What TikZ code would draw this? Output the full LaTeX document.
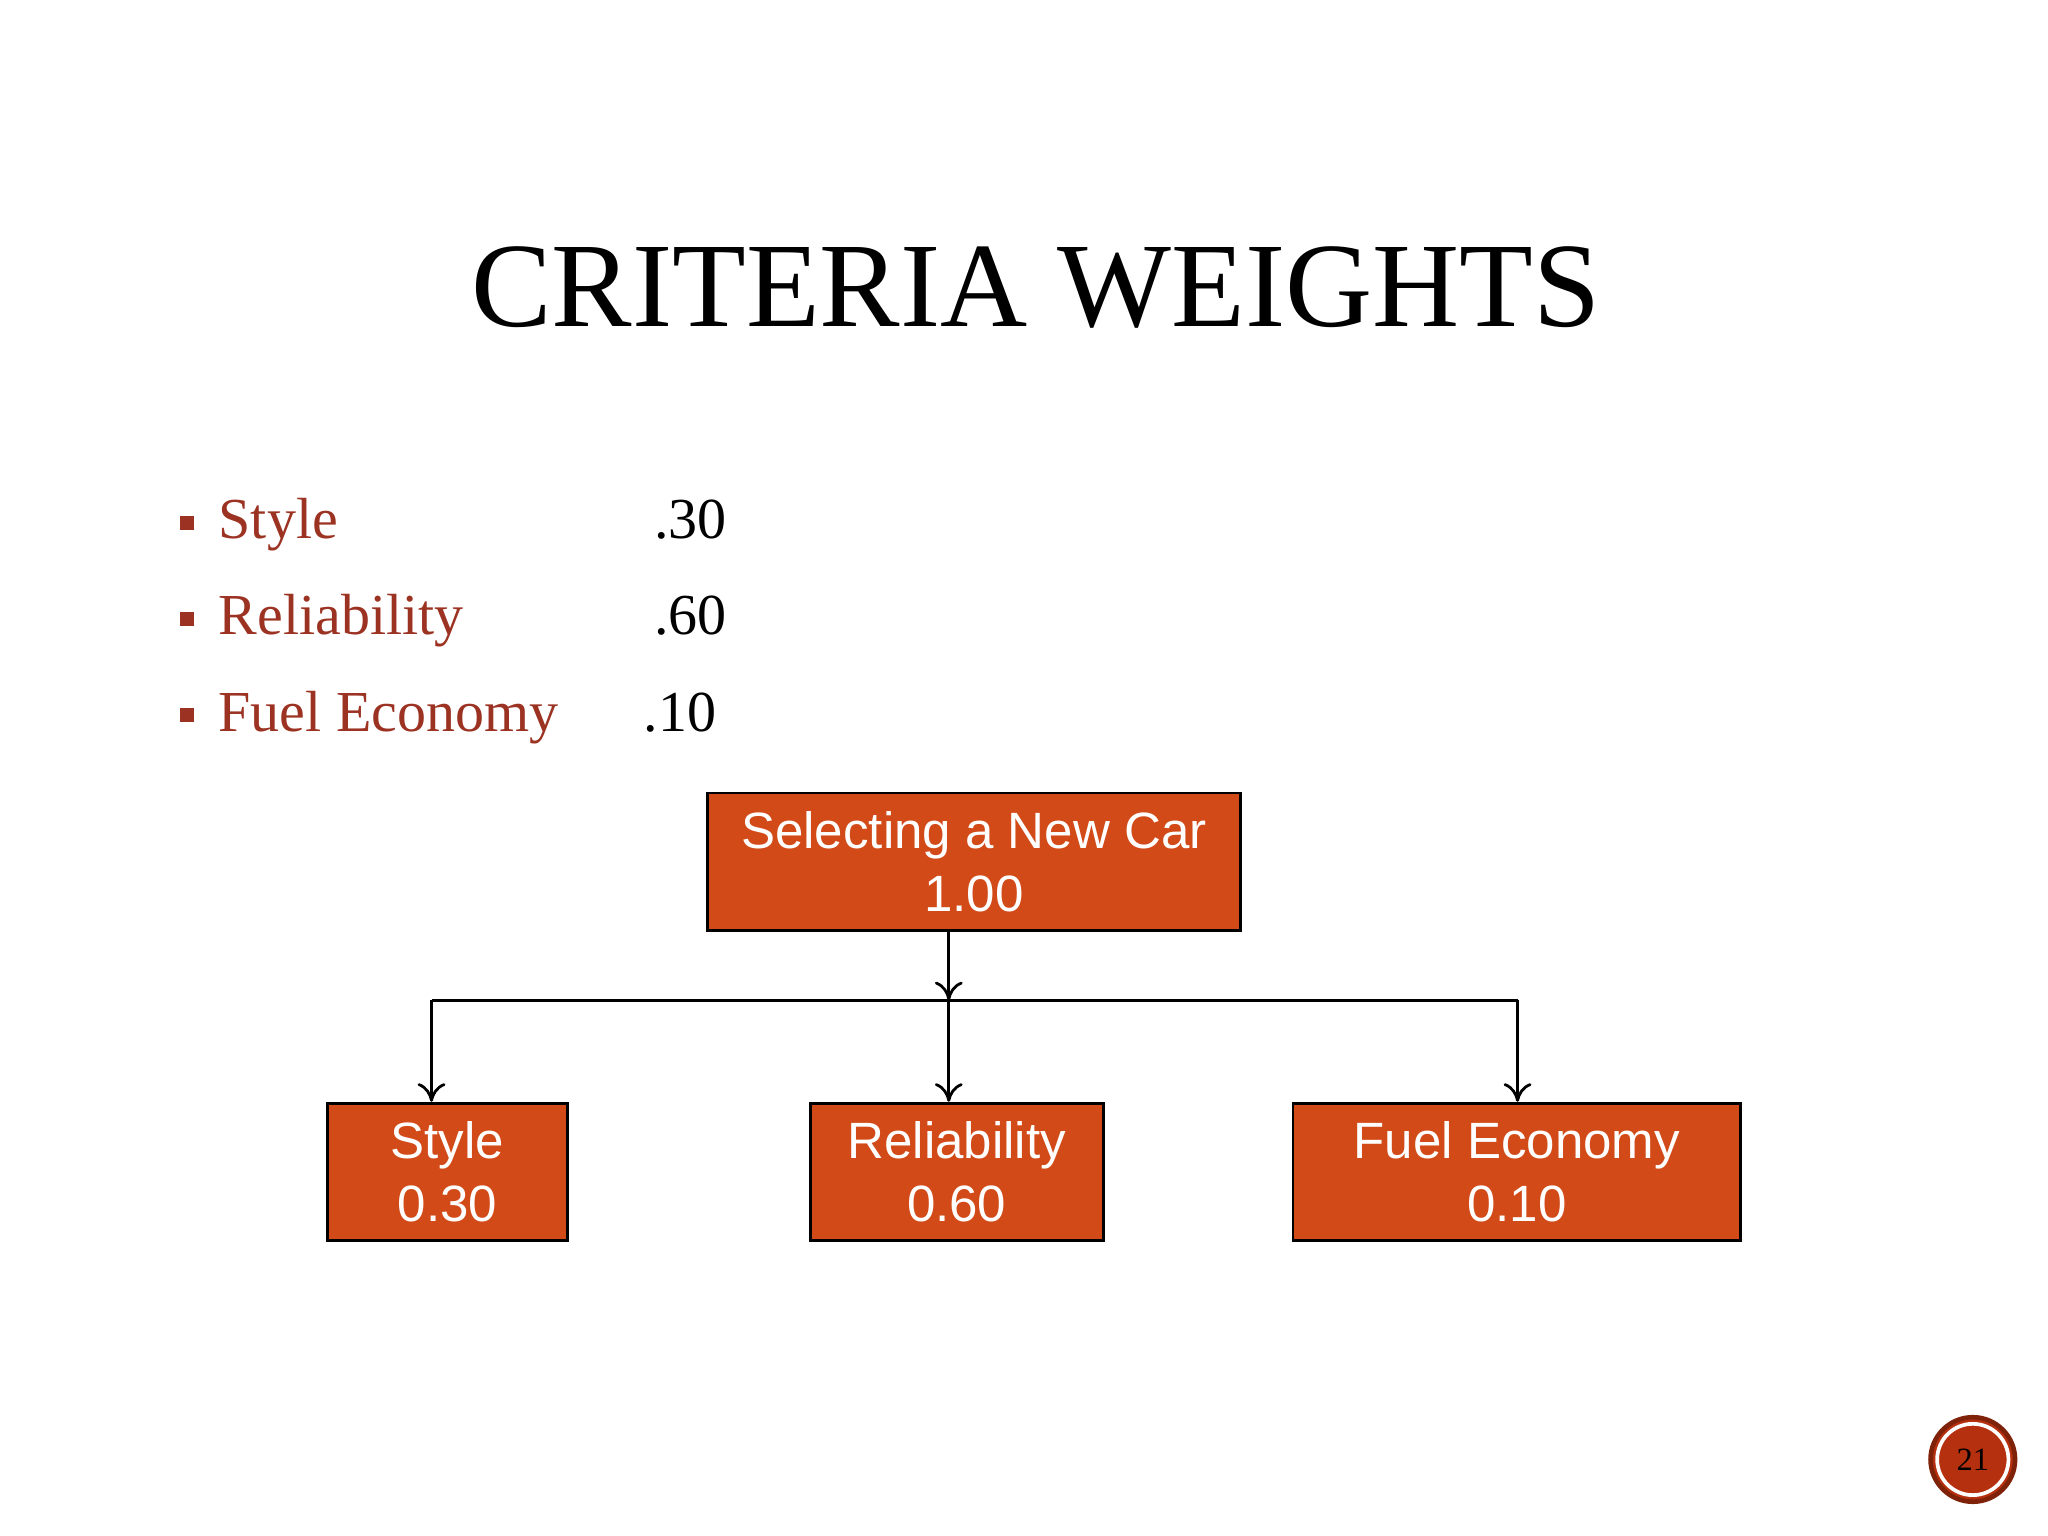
\documentclass[tikz,border=0pt]{standalone}
\usepackage{fontspec}
\setmainfont{Liberation Serif}
\setsansfont{Liberation Sans}
\usetikzlibrary{arrows.meta}
\definecolor{bul}{HTML}{9B3222}
\definecolor{boxc}{HTML}{D24A18}
\definecolor{circ}{HTML}{B5300F}
\begin{document}
\begin{tikzpicture}[x=0.01cm,y=-0.01cm,
  bx/.style={draw=black,line width=0.6pt,fill=boxc,text=white,font=\sffamily\fontsize{11}{13.5}\selectfont,align=center,inner sep=0pt},
  conn/.style={draw=black,line width=0.6pt},
  arr/.style={conn,-{To[length=4pt,width=6pt]}},
  btxt/.style={anchor=base west,text=bul,font=\fontsize{12.5}{14}\selectfont,inner sep=0pt},
  vtxt/.style={anchor=base west,font=\fontsize{12.5}{14}\selectfont,inner sep=0pt},
  sq/.style={fill=bul,minimum size=3pt,inner sep=0pt}]
\useasboundingbox (0,0) rectangle (1552,1164);
\node[font=\fontsize{26}{26}\selectfont] (title) at (785,218) {CRITERIA WEIGHTS};
\node[sq] (b1) at (142,396) {}; \node[btxt] (t1) at (165,408) {Style}; \node[vtxt] (v1) at (495,408) {.30};
\node[sq] (b2) at (142,469) {}; \node[btxt] (t2) at (165,481) {Reliability}; \node[vtxt] (v2) at (495,481) {.60};
\node[sq] (b3) at (142,542) {}; \node[btxt] (t3) at (165,554) {Fuel Economy}; \node[vtxt] (v3) at (487,554) {.10};
\node[bx,minimum width=404\pgflinewidth/\pgflinewidth*0.01cm,minimum height=1.04cm] (top) at (738,653) {Selecting a New Car\\1.00};
\node[bx,minimum width=1.82cm,minimum height=1.04cm] (s) at (339,888) {Style\\0.30};
\node[bx,minimum width=2.22cm,minimum height=1.04cm] (r) at (725,888) {Reliability\\0.60};
\node[bx,minimum width=3.39cm,minimum height=1.04cm] (f) at (1149.5,888) {Fuel Economy\\0.10};
\coordinate (j) at (719,758);
\coordinate (jl) at (327,758);
\coordinate (jr) at (1150,758);
\draw[arr] (top.south -| j) -- (j);
\draw[conn] (jl) -- (jr);
\draw[arr] (jl) -- (jl |- s.north);
\draw[arr] (j) -- (j |- r.north);
\draw[arr] (jr) -- (jr |- f.north);
\node[circle,fill=circ,draw=circ!70!black,line width=1pt,minimum size=0.64cm,inner sep=0pt] (pg) at (1495,1106) {};
\draw[white,line width=0.8pt] (pg) circle (0.27cm);
\node[font=\fontsize{7}{8}\selectfont] (pn) at (pg) {21};
\end{tikzpicture}
\end{document}
